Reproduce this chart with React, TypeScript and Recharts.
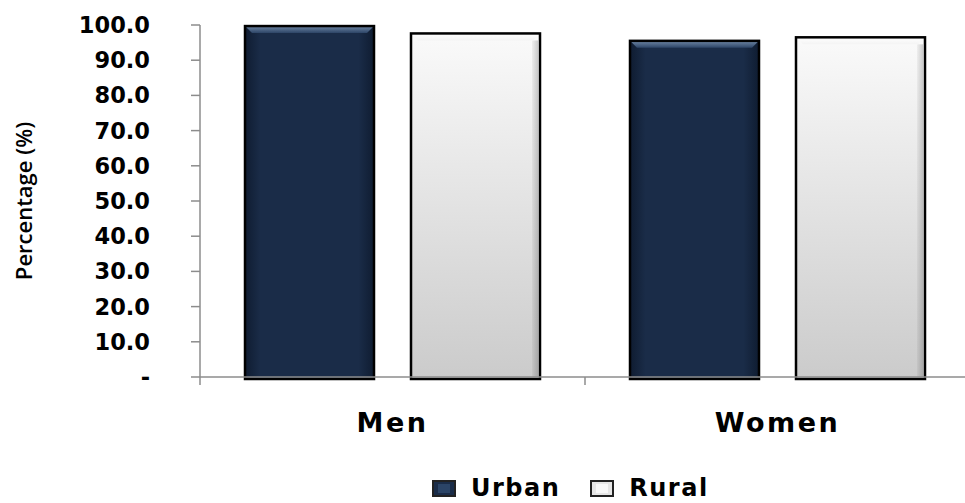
import { BarChart, Bar, XAxis, YAxis, Legend } from 'recharts'

const categories = ['Men', 'Women']
const urbanValues = [99.7, 95.5]
const ruralValues = [97.6, 96.5]
const yTicks = [0, 10, 20, 30, 40, 50, 60, 70, 80, 90, 100]
const seriesNames = ['Urban', 'Rural']

const data = categories.map((name, i) => ({
  name,
  urban: urbanValues[i],
  rural: ruralValues[i],
}))

const boldFont = '"DejaVu Sans", Verdana, sans-serif'

function formatTick(v: number) {
  return v === 0 ? '-' : v.toFixed(1)
}

// bevelled bar: gradient body, lighter top bevel, dark outline
function BevelBar(props: any) {
  const { x, y, width, height, dataKey } = props
  if (!height || height <= 0) return null
  const urban = dataKey === 'urban'
  const b = 7
  return (
    <g>
      <rect
        x={x}
        y={y}
        width={width}
        height={height + 2}
        fill={urban ? 'url(#urbanBody)' : 'url(#ruralBody)'}
      />
      {!urban && (
        <rect x={x + width - 8} y={y + b} width={6} height={height - b} fill="url(#ruralEdge)" />
      )}
      <polygon
        points={`${x},${y} ${x + width},${y} ${x + width - b},${y + b} ${x + b},${y + b}`}
        fill={urban ? 'url(#urbanTop)' : 'url(#ruralTop)'}
      />
      <rect
        x={x}
        y={y}
        width={width}
        height={height + 2}
        fill="none"
        stroke="#000"
        strokeWidth={2.5}
      />
    </g>
  )
}

function CategoryTick(props: any) {
  const { x, y, payload, index, width, visibleTicksCount } = props
  const band = (width || 770) / (visibleTicksCount || categories.length)
  const left = x - band / 2
  return (
    <g>
      <line x1={left} y1={y - 8} x2={left} y2={y} stroke="#8c8c8c" strokeWidth={1.5} />
      {index === categories.length - 1 && (
        <line x1={left + band} y1={y - 8} x2={left + band} y2={y} stroke="#8c8c8c" strokeWidth={1.5} />
      )}
      <text
        x={x}
        y={y + 47}
        textAnchor="middle"
        fontFamily={boldFont}
        fontWeight="bold"
        fontSize={27}
        letterSpacing={2.5}
        fill="#000"
      >
        {payload.value}
      </text>
    </g>
  )
}

function LegendSwatch({ urban }: { urban: boolean }) {
  return (
    <svg width={24} height={17} style={{ marginRight: 15 }}>
      <rect x={1} y={1} width={22} height={15} fill={urban ? '#1a2c48' : '#e6e6e6'} stroke="#222" strokeWidth={2} />
      <rect x={6} y={4} width={12} height={9} fill={urban ? '#2b4466' : '#f8f8f8'} />
    </svg>
  )
}

function LegendContent() {
  return (
    <div style={{ display: 'flex', alignItems: 'center', paddingLeft: 432, height: 28 }}>
      {seriesNames.map((name, i) => (
        <div key={name} style={{ display: 'flex', alignItems: 'center', marginRight: i === 0 ? 30 : 0 }}>
          <LegendSwatch urban={i === 0} />
          <span style={{ fontFamily: boldFont, fontWeight: 'bold', fontSize: 24, letterSpacing: 1.5, color: '#000', lineHeight: '28px' }}>
            {name}
          </span>
        </div>
      ))}
    </div>
  )
}

export default function App() {
  return (
    <div style={{ position: 'absolute', left: 0, top: 0, width: 965, height: 503, overflow: 'hidden', background: '#fff' }}>
      <BarChart
        width={975}
        height={503}
        data={data}
        margin={{ top: 25, right: 5, left: 0, bottom: 76 }}
        barCategoryGap={45}
        barGap={37}
      >
        <defs>
          <linearGradient id="urbanBody" x1="0" y1="0" x2="1" y2="0">
            <stop offset="0" stopColor="#0f1c31" />
            <stop offset="0.12" stopColor="#1a2c48" />
            <stop offset="0.88" stopColor="#1a2c48" />
            <stop offset="1" stopColor="#0f1c31" />
          </linearGradient>
          <linearGradient id="urbanTop" x1="0" y1="0" x2="0" y2="1">
            <stop offset="0" stopColor="#7088a6" />
            <stop offset="1" stopColor="#2c4466" />
          </linearGradient>
          <linearGradient id="ruralBody" x1="0" y1="0" x2="0" y2="1">
            <stop offset="0" stopColor="#fafafa" />
            <stop offset="1" stopColor="#cbcbcb" />
          </linearGradient>
          <linearGradient id="ruralEdge" x1="0" y1="0" x2="1" y2="0">
            <stop offset="0" stopColor="rgba(0,0,0,0.04)" />
            <stop offset="1" stopColor="rgba(0,0,0,0.18)" />
          </linearGradient>
          <linearGradient id="ruralTop" x1="0" y1="0" x2="0" y2="1">
            <stop offset="0" stopColor="#ffffff" />
            <stop offset="1" stopColor="#f4f4f4" />
          </linearGradient>
        </defs>
        <XAxis
          dataKey="name"
          height={50}
          axisLine={{ stroke: '#8c8c8c', strokeWidth: 1.5 }}
          tickLine={false}
          tick={<CategoryTick />}
          interval={0}
        />
        <YAxis
          width={200}
          domain={[0, 100]}
          ticks={yTicks}
          interval={0}
          tickFormatter={formatTick}
          axisLine={{ stroke: '#8c8c8c', strokeWidth: 1.5 }}
          tickLine={{ stroke: '#8c8c8c', strokeWidth: 1.5 }}
          tickSize={9}
          tickMargin={41}
          tick={{ fontFamily: boldFont, fontWeight: 'bold', fontSize: 22.5, fill: '#000' }}
          label={{
            value: 'Percentage (%)',
            angle: -90,
            position: 'insideLeft',
            offset: 24,
            style: { fontFamily: '"Open Sans", "Noto Sans", sans-serif', fontWeight: 600, fontSize: 22, fill: '#000', textAnchor: 'middle' },
          }}
        />
        <Legend
          verticalAlign="middle"
          align="center"
          content={<LegendContent />}
          wrapperStyle={{ top: 474, left: 0, width: 965, height: 28 }}
        />
        <Bar dataKey="urban" name="Urban" shape={<BevelBar />} isAnimationActive={false} />
        <Bar dataKey="rural" name="Rural" shape={<BevelBar />} isAnimationActive={false} />
      </BarChart>
    </div>
  )
}
